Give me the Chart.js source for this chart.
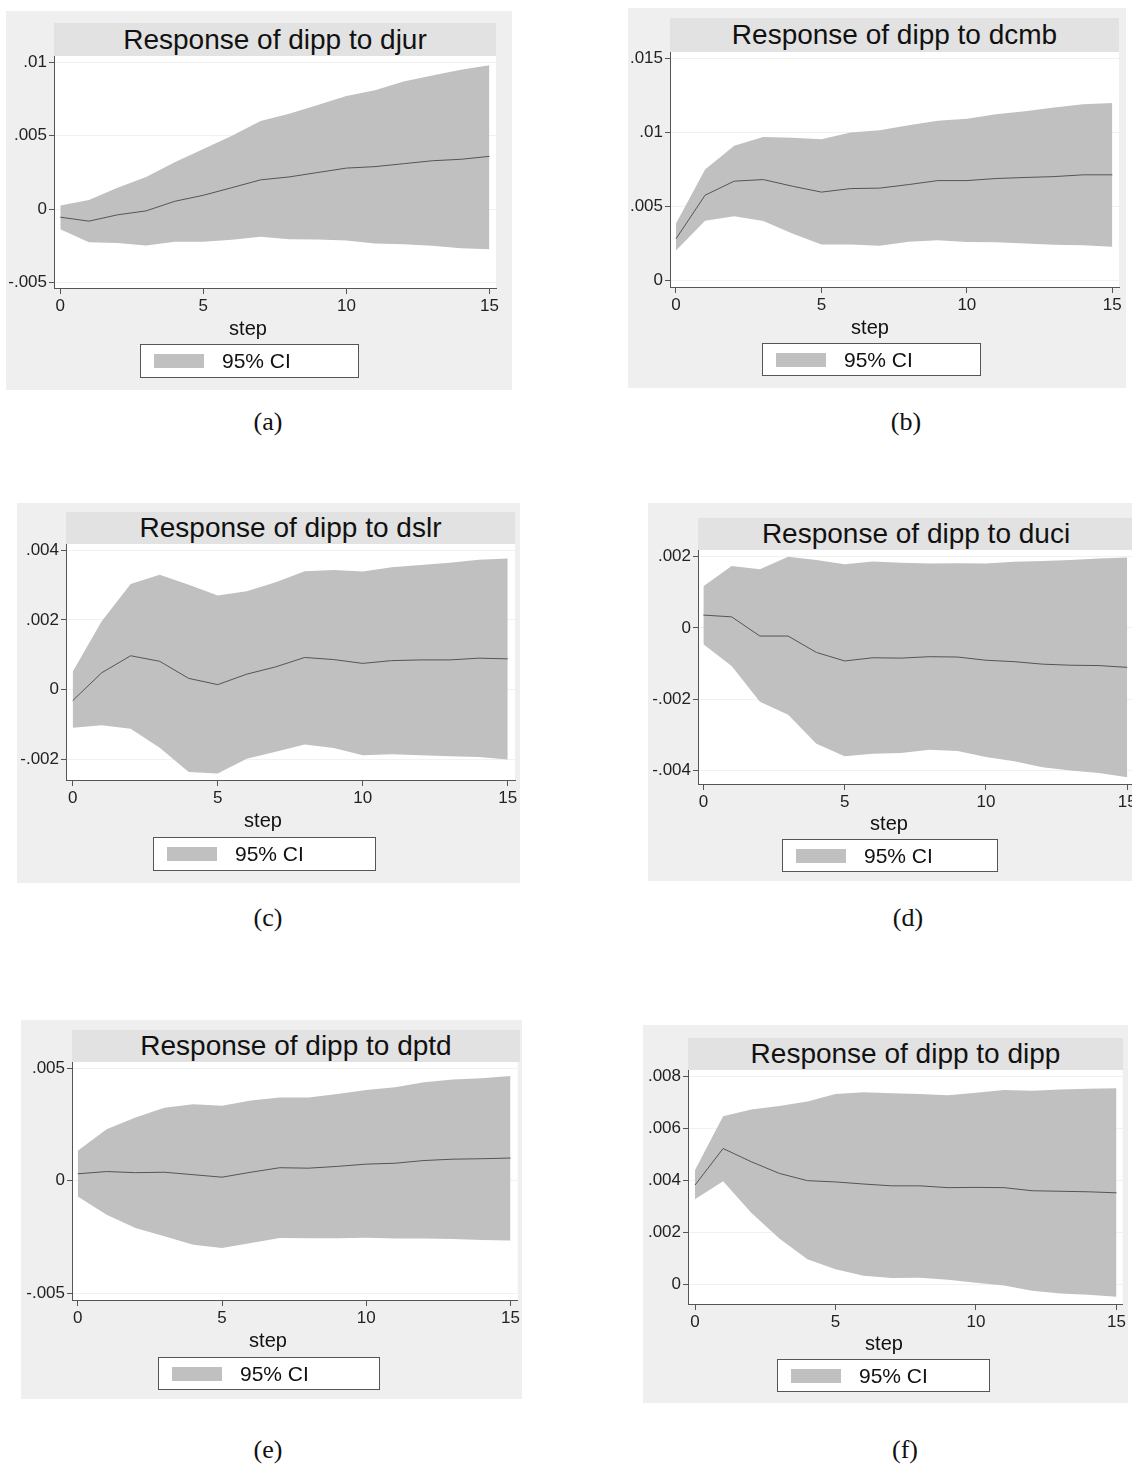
<!DOCTYPE html>
<html>
<head>
<meta charset="utf-8">
<script src="https://cdn.jsdelivr.net/npm/chart.js@4.4.1/dist/chart.umd.min.js"></script>
<style>
  body { margin: 0; width: 1132px; height: 1468px; overflow: hidden; background: #fff; position: relative;
         font-family: 'Liberation Sans', Arial, sans-serif; }
  .panel { position: absolute; background: #efefef; }
  .ttl { position: absolute; background: #e2e2e2; display: flex; align-items: center; justify-content: center;
         font-size: 28px; color: #111; white-space: nowrap; overflow: hidden; }
  canvas.c { position: absolute; }
  .axt { position: absolute; font-size: 20px; color: #111; transform: translate(-50%, -50%); white-space: nowrap; }
  .leg { position: absolute; background: #fff; border: 1px solid #555; box-sizing: border-box; }
  .leg .sw { position: absolute; left: 13px; top: 50%; margin-top: -7px; width: 50px; height: 14px; background: #c0c0c0; }
  .leg .tx { position: absolute; left: 81px; top: 50%; transform: translateY(-50%); font-size: 21px; color: #111; white-space: nowrap; }
  .cap { position: absolute; font-family: 'Liberation Serif', 'Times New Roman', serif; font-size: 26px; color: #111;
         transform: translate(-50%, -50%); }
</style>
</head>
<body>
<script>
// ---- data ----
const steps = [0, 1, 2, 3, 4, 5, 6, 7, 8, 9, 10, 11, 12, 13, 14, 15];
const xTicks = [0, 5, 10, 15];

const djurUpper = [0.00025, 0.00063, 0.00147, 0.0022, 0.0032, 0.0041, 0.005, 0.006, 0.0065, 0.0071, 0.0077, 0.0081, 0.0087, 0.0091, 0.0095, 0.0098];
const djurIrf   = [-0.00054, -0.00081, -0.00038, -0.00011, 0.00054, 0.00095, 0.00147, 0.002, 0.0022, 0.0025, 0.0028, 0.0029, 0.0031, 0.0033, 0.0034, 0.0036];
const djurLower = [-0.00136, -0.00224, -0.00229, -0.00247, -0.00222, -0.00222, -0.00208, -0.00188, -0.00204, -0.00206, -0.00213, -0.00233, -0.00238, -0.00249, -0.00265, -0.00272];
const djurTicks = [-0.005, 0, 0.005, 0.01];

const dcmbUpper = [0.00383, 0.00748, 0.00908, 0.00968, 0.00962, 0.00953, 0.00998, 0.01014, 0.01047, 0.01077, 0.01092, 0.01122, 0.01142, 0.01167, 0.0119, 0.01198];
const dcmbIrf   = [0.00279, 0.00574, 0.00669, 0.0068, 0.00635, 0.00595, 0.00619, 0.00622, 0.00646, 0.00673, 0.00673, 0.00687, 0.00694, 0.007, 0.00712, 0.00712];
const dcmbLower = [0.002, 0.00401, 0.00432, 0.00399, 0.00315, 0.00241, 0.00241, 0.00232, 0.00259, 0.0027, 0.00257, 0.00255, 0.00248, 0.00239, 0.00236, 0.00225];
const dcmbTicks = [0, 0.005, 0.01, 0.015];

const dslrUpper = [0.00051, 0.00196, 0.00303, 0.0033, 0.00301, 0.0027, 0.00282, 0.00308, 0.0034, 0.00343, 0.00339, 0.00351, 0.00358, 0.00364, 0.00373, 0.00376];
const dslrIrf   = [-0.00032, 0.00048, 0.00097, 0.00081, 0.00032, 0.00014, 0.00044, 0.00065, 0.00092, 0.00086, 0.00075, 0.00083, 0.00085, 0.00085, 0.0009, 0.00088];
const dslrLower = [-0.0011, -0.00103, -0.00113, -0.00167, -0.00237, -0.00241, -0.00199, -0.00179, -0.00158, -0.00168, -0.00189, -0.00186, -0.00189, -0.00192, -0.00194, -0.00201];
const dslrTicks = [-0.002, 0, 0.002, 0.004];

const duciUpper = [0.00117, 0.00174, 0.00165, 0.002, 0.00191, 0.00179, 0.00187, 0.00183, 0.00181, 0.00182, 0.00181, 0.00186, 0.00188, 0.00191, 0.00195, 0.00198];
const duciIrf   = [0.00036, 0.00031, -0.00023, -0.00023, -0.00069, -0.00093, -0.00084, -0.00085, -0.00081, -0.00082, -0.00091, -0.00095, -0.00102, -0.00105, -0.00106, -0.00111];
const duciLower = [-0.00046, -0.00107, -0.00208, -0.00244, -0.00326, -0.00361, -0.00354, -0.00352, -0.00343, -0.00346, -0.00363, -0.00375, -0.00392, -0.00401, -0.00408, -0.0042];
const duciTicks = [-0.004, -0.002, 0, 0.002];

const dptdUpper = [0.00133, 0.00229, 0.00281, 0.00325, 0.0034, 0.00334, 0.00357, 0.0037, 0.0037, 0.00386, 0.00404, 0.00416, 0.00438, 0.0045, 0.00456, 0.00466];
const dptdIrf   = [0.00031, 0.00041, 0.00036, 0.00038, 0.00027, 0.00016, 0.00038, 0.00058, 0.00056, 0.00064, 0.00074, 0.00078, 0.0009, 0.00096, 0.00098, 0.00101];
const dptdLower = [-0.0007, -0.00151, -0.0021, -0.00247, -0.00284, -0.00299, -0.00277, -0.00254, -0.00256, -0.00256, -0.00253, -0.00257, -0.00257, -0.00259, -0.00263, -0.00265];
const dptdTicks = [-0.005, 0, 0.005];

const dippUpper = [0.0044, 0.00648, 0.00674, 0.00687, 0.00704, 0.00733, 0.0074, 0.00736, 0.00733, 0.00729, 0.00738, 0.00749, 0.00746, 0.00751, 0.00754, 0.00756];
const dippIrf   = [0.00382, 0.00523, 0.00472, 0.00427, 0.00399, 0.00394, 0.00386, 0.00379, 0.00379, 0.00372, 0.00373, 0.00372, 0.0036, 0.00358, 0.00356, 0.00352];
const dippLower = [0.00327, 0.00397, 0.00275, 0.00176, 0.00096, 0.00057, 0.00032, 0.00023, 0.00024, 0.00017, 0.00005, -0.00006, -0.00026, -0.00036, -0.00041, -0.00049];
const dippTicks = [0, 0.002, 0.004, 0.006, 0.008];

// ---- layout of the six panels (page pixels) ----
const panels = [
  { cap: '(a)', title: 'Response of dipp to djur', upper: djurUpper, irf: djurIrf, lower: djurLower, yTicks: djurTicks,
    box: [6, 11, 506, 379], titleTop: 23, plot: [54, 56, 496, 288], xr: [-0.22, 15.23], yr: [-0.00536, 0.01043],
    stepAt: [248, 328], legend: [140, 344, 219, 34], capAt: [268, 422] },
  { cap: '(b)', title: 'Response of dipp to dcmb', upper: dcmbUpper, irf: dcmbIrf, lower: dcmbLower, yTicks: dcmbTicks,
    box: [628, 8, 498, 380], titleTop: 18, plot: [670, 52, 1119, 287], xr: [-0.206, 15.23], yr: [-0.00047, 0.01543],
    stepAt: [870, 327], legend: [762, 343, 219, 33], capAt: [906, 422] },
  { cap: '(c)', title: 'Response of dipp to dslr', upper: dslrUpper, irf: dslrIrf, lower: dslrLower, yTicks: dslrTicks,
    box: [17, 503, 503, 380], titleTop: 512, plot: [66, 544, 515, 780], xr: [-0.23, 15.25], yr: [-0.0026, 0.00418],
    stepAt: [263, 820], legend: [153, 837, 223, 34], capAt: [268, 918] },
  { cap: '(d)', title: 'Response of dipp to duci', upper: duciUpper, irf: duciIrf, lower: duciLower, yTicks: duciTicks,
    box: [648, 503, 502, 378], titleTop: 518, plot: [698, 550, 1134, 784], xr: [-0.19, 15.24], yr: [-0.00439, 0.00219],
    stepAt: [889, 823], legend: [782, 839, 216, 33], capAt: [908, 918] },
  { cap: '(e)', title: 'Response of dipp to dptd', upper: dptdUpper, irf: dptdIrf, lower: dptdLower, yTicks: dptdTicks,
    box: [21, 1020, 501, 379], titleTop: 1030, plot: [72, 1062, 520, 1300], xr: [-0.2, 15.25], yr: [-0.0053, 0.00528],
    stepAt: [268, 1340], legend: [158, 1357, 222, 33], capAt: [268, 1450] },
  { cap: '(f)', title: 'Response of dipp to dipp', upper: dippUpper, irf: dippIrf, lower: dippLower, yTicks: dippTicks,
    box: [643, 1025, 485, 378], titleTop: 1038, plot: [688, 1070, 1123, 1304], xr: [-0.25, 15.22], yr: [-0.00077, 0.00826],
    stepAt: [884, 1343], legend: [777, 1359, 213, 33], capAt: [905, 1450] }
];

Chart.defaults.font.family = "'Liberation Sans', Arial, sans-serif";
Chart.defaults.color = '#222';

// Stata-like tick labels: .005, -.002, 0
function stataNum(v) {
  if (Math.abs(v) < 1e-12) return '0';
  const s = String(Number(v.toPrecision(6)));
  return s.replace(/^(-?)0\./, '$1.');
}

// white plot region behind grid + data
const plotBg = {
  id: 'plotBg',
  beforeDraw(chart) {
    const { ctx, chartArea: a } = chart;
    ctx.save();
    ctx.fillStyle = '#fff';
    ctx.fillRect(a.left, a.top, a.right - a.left, a.bottom - a.top);
    ctx.restore();
  }
};

function addDiv(cls, x, y, w, h) {
  const d = document.createElement('div');
  d.className = cls;
  d.style.left = x + 'px';
  d.style.top = y + 'px';
  if (w != null) d.style.width = w + 'px';
  if (h != null) d.style.height = h + 'px';
  document.body.appendChild(d);
  return d;
}

function makePanel(p) {
  const [ox, oy, ow, oh] = p.box;
  const [pl, pt, pr, pb] = p.plot;

  addDiv('panel', ox, oy, ow, oh);
  addDiv('ttl', pl, p.titleTop, pr - pl, pt - p.titleTop).textContent = p.title;

  // canvas covers the grey region down to just under the tick labels
  const canvasH = pb + 30 - oy;
  const cv = document.createElement('canvas');
  cv.className = 'c';
  cv.width = ow;
  cv.height = canvasH;
  cv.style.left = ox + 'px';
  cv.style.top = oy + 'px';
  cv.style.width = ow + 'px';
  cv.style.height = canvasH + 'px';
  document.body.appendChild(cv);

  const pts = arr => steps.map((s, i) => ({ x: s, y: arr[i] }));

  const chart = new Chart(cv, {
    type: 'line',
    data: {
      datasets: [
        { label: 'irf', data: pts(p.irf), borderColor: '#555', borderWidth: 1, pointRadius: 0, fill: false, tension: 0 },
        { label: '95% CI', data: pts(p.upper), borderColor: 'rgba(0,0,0,0)', borderWidth: 0, pointRadius: 0,
          backgroundColor: '#c0c0c0', fill: '+1' },
        { label: 'lower', data: pts(p.lower), borderColor: 'rgba(0,0,0,0)', borderWidth: 0, pointRadius: 0, fill: false }
      ]
    },
    options: {
      responsive: false,
      animation: false,
      events: [],
      layout: { autoPadding: false, padding: { left: 0, right: ox + ow - pr, top: pt - oy, bottom: 0 } },
      plugins: { legend: { display: false }, title: { display: false }, tooltip: { enabled: false } },
      scales: {
        x: {
          type: 'linear', min: p.xr[0], max: p.xr[1],
          afterBuildTicks: s => { s.ticks = xTicks.map(v => ({ value: v })); },
          afterFit: s => { s.height = canvasH - (pb - oy); },
          grid: { drawOnChartArea: false, tickLength: 6, tickColor: '#555' },
          border: { color: '#555', width: 1 },
          ticks: { font: { size: 17 }, color: '#222', padding: 2, maxRotation: 0, callback: v => String(v) },
          title: { display: false }
        },
        y: {
          min: p.yr[0], max: p.yr[1],
          afterBuildTicks: s => { s.ticks = p.yTicks.map(v => ({ value: v })); },
          afterFit: s => { s.width = pl - ox; },
          grid: { color: '#f1f1f1', tickLength: 5, tickColor: '#555' },
          border: { color: '#555', width: 1 },
          ticks: { font: { size: 17 }, color: '#222', padding: 2, callback: v => stataNum(v) }
        }
      }
    },
    plugins: [plotBg]
  });

  // x axis title, placed where Stata puts it
  addDiv('axt', p.stepAt[0], p.stepAt[1]).textContent = 'step';

  // legend box in Stata style, built from the CI dataset
  const [lx, ly, lw, lh] = p.legend;
  const leg = addDiv('leg', lx, ly, lw, lh);
  const sw = document.createElement('span'); sw.className = 'sw';
  const tx = document.createElement('span'); tx.className = 'tx';
  tx.textContent = chart.data.datasets[1].label;
  leg.appendChild(sw);
  leg.appendChild(tx);

  addDiv('cap', p.capAt[0], p.capAt[1]).textContent = p.cap;
}

panels.forEach(makePanel);
</script>
</body>
</html>
